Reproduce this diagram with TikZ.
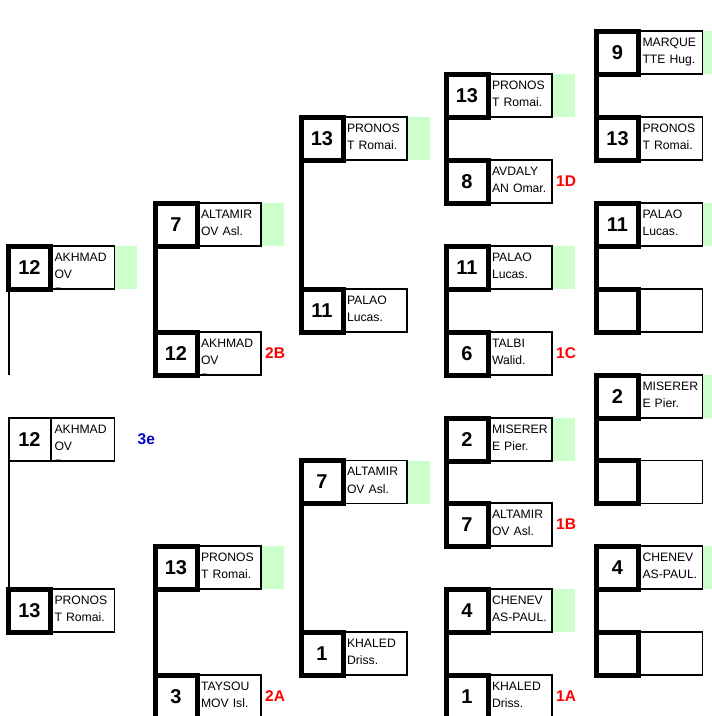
\documentclass[tikz,border=0pt]{standalone}
\usepackage{fontspec}
\setmainfont{Liberation Sans}
\usetikzlibrary{positioning}
\definecolor{wingreen}{HTML}{CCFFCC}
\definecolor{thirdblue}{HTML}{0000CC}

\begin{document}
\begin{tikzpicture}[x=1pt,y=-1pt,
  nbox/.style={draw,line width=5pt,minimum width=42pt,minimum height=43pt,inner sep=0pt,outer sep=0pt,anchor=north west,font=\fontsize{20}{20}\selectfont\bfseries},
  pbox/.style={draw,line width=1.5pt,minimum width=64pt,minimum height=43pt,inner xsep=4pt,inner ysep=0pt,outer sep=0pt,text width=56pt,text height=15pt,text depth=28pt,align=left,font=\fontsize{12.2}{17.5}\selectfont},
  clipname/.style={path picture={\node[anchor=north west,inner xsep=4pt,inner ysep=0pt,text width=56pt,text height=15pt,align=left,font=\fontsize{12.2}{17.5}\selectfont] at (path picture bounding box.north west) {#1};}},
  gbox/.style={fill=wingreen,minimum width=22pt,minimum height=43pt,inner sep=0pt,outer sep=0pt},
  rlab/.style={text=red,font=\fontsize{15.5}{15.5}\selectfont\bfseries,inner sep=0pt},
  link/.style={line width=5pt},
  thinlink/.style={line width=2pt}]
\useasboundingbox (0,0) rectangle (712,716);

% column 1
\node[nbox] (c1r5) at (8.5,246) {12};
\node[pbox,clipname={AKHMAD\\OV\\Ramz.},right=0pt of c1r5] (c1r5p) {};
\node[gbox,right=0.75pt of c1r5p] (c1r5g) {};
\node[nbox,line width=2pt] (c1r9) at (8.5,418) {12};
\node[pbox,clipname={AKHMAD\\OV\\Ramz.},right=0pt of c1r9] (c1r9p) {};
\node[rlab,text=thirdblue,right=23pt of c1r9p] (l3e) {3e};
\node[nbox] (c1r13) at (8.5,589) {13};
\node[pbox,right=0pt of c1r13] (c1r13p) {PRONOS\\T Romai.};
\coordinate (c1end) at (8.5,375);

% column 2
\node[nbox] (c2r4) at (155,203) {7};
\node[pbox,right=0pt of c2r4] (c2r4p) {ALTAMIR\\OV Asl.};
\node[gbox,right=0.75pt of c2r4p] (c2r4g) {};
\node[nbox] (c2r7) at (155,332) {12};
\node[pbox,clipname={AKHMAD\\OV\\Ramz.},right=0pt of c2r7] (c2r7p) {};
\node[rlab,right=4pt of c2r7p] (l2B) {2B};
\node[nbox] (c2r12) at (155,546) {13};
\node[pbox,right=0pt of c2r12] (c2r12p) {PRONOS\\T Romai.};
\node[gbox,right=0.75pt of c2r12p] (c2r12g) {};
\node[nbox] (c2r15) at (155,675) {3};
\node[pbox,right=0pt of c2r15] (c2r15p) {TAYSOU\\MOV Isl.};
\node[rlab,right=4pt of c2r15p] (l2A) {2A};

% column 3
\node[nbox] (c3r2) at (301,117) {13};
\node[pbox,right=0pt of c3r2] (c3r2p) {PRONOS\\T Romai.};
\node[gbox,right=0.75pt of c3r2p] (c3r2g) {};
\node[nbox] (c3r6) at (301,289) {11};
\node[pbox,right=0pt of c3r6] (c3r6p) {PALAO\\Lucas.};
\node[nbox] (c3r10) at (301,460.5) {7};
\node[pbox,right=0pt of c3r10] (c3r10p) {ALTAMIR\\OV Asl.};
\node[gbox,right=0.75pt of c3r10p] (c3r10g) {};
\node[nbox] (c3r14) at (301,632) {1};
\node[pbox,right=0pt of c3r14] (c3r14p) {KHALED\\Driss.};

% column 4
\node[nbox] (c4r1) at (446,74) {13};
\node[pbox,right=0pt of c4r1] (c4r1p) {PRONOS\\T Romai.};
\node[gbox,right=0.75pt of c4r1p] (c4r1g) {};
\node[nbox] (c4r3) at (446,160) {8};
\node[pbox,right=0pt of c4r3] (c4r3p) {AVDALY\\AN Omar.};
\node[rlab,right=4pt of c4r3p] (l1D) {1D};
\node[nbox] (c4r5) at (446,246) {11};
\node[pbox,right=0pt of c4r5] (c4r5p) {PALAO\\Lucas.};
\node[gbox,right=0.75pt of c4r5p] (c4r5g) {};
\node[nbox] (c4r7) at (446,332) {6};
\node[pbox,right=0pt of c4r7] (c4r7p) {TALBI\\Walid.};
\node[rlab,right=4pt of c4r7p] (l1C) {1C};
\node[nbox] (c4r9) at (446,418) {2};
\node[pbox,right=0pt of c4r9] (c4r9p) {MISERER\\E Pier.};
\node[gbox,right=0.75pt of c4r9p] (c4r9g) {};
\node[nbox] (c4r11) at (446,503) {7};
\node[pbox,right=0pt of c4r11] (c4r11p) {ALTAMIR\\OV Asl.};
\node[rlab,right=4pt of c4r11p] (l1B) {1B};
\node[nbox] (c4r13) at (446,589) {4};
\node[pbox,right=0pt of c4r13] (c4r13p) {CHENEV\\AS-PAUL.};
\node[gbox,right=0.75pt of c4r13p] (c4r13g) {};
\node[nbox] (c4r15) at (446,675) {1};
\node[pbox,right=0pt of c4r15] (c4r15p) {KHALED\\Driss.};
\node[rlab,right=4pt of c4r15p] (l1A) {1A};

% column 5
\node[nbox] (c5r0) at (596.5,31) {9};
\node[pbox,right=0pt of c5r0] (c5r0p) {MARQUE\\TTE Hug.};
\node[gbox,right=0.75pt of c5r0p] (c5r0g) {};
\node[nbox] (c5r2) at (596.5,117) {13};
\node[pbox,right=0pt of c5r2] (c5r2p) {PRONOS\\T Romai.};
\node[nbox] (c5r4) at (596.5,203) {11};
\node[pbox,right=0pt of c5r4] (c5r4p) {PALAO\\Lucas.};
\node[gbox,right=0.75pt of c5r4p] (c5r4g) {};
\node[nbox] (c5r6) at (596.5,289) {};
\node[pbox,right=0pt of c5r6] (c5r6p) {};
\node[nbox] (c5r8) at (596.5,375) {2};
\node[pbox,right=0pt of c5r8] (c5r8p) {MISERER\\E Pier.};
\node[gbox,right=0.75pt of c5r8p] (c5r8g) {};
\node[nbox] (c5r10) at (596.5,460.5) {};
\node[pbox,right=0pt of c5r10] (c5r10p) {};
\node[nbox] (c5r12) at (596.5,546) {4};
\node[pbox,right=0pt of c5r12] (c5r12p) {CHENEV\\AS-PAUL.};
\node[gbox,right=0.75pt of c5r12p] (c5r12g) {};
\node[nbox] (c5r14) at (596.5,632) {};
\node[pbox,right=0pt of c5r14] (c5r14p) {};

% bracket lines
\draw[thinlink] (c1r5.south west) -- (c1end);
\draw[thinlink] (c1r9.south west) -- (c1r13.north west);
\draw[link] (c2r4.south west) -- (c2r7.north west);
\draw[link] (c2r12.south west) -- (c2r15.north west);
\draw[link] (c3r2.south west) -- (c3r6.north west);
\draw[link] (c3r10.south west) -- (c3r14.north west);
\draw[link] (c4r1.south west) -- (c4r3.north west);
\draw[link] (c4r5.south west) -- (c4r7.north west);
\draw[link] (c4r9.south west) -- (c4r11.north west);
\draw[link] (c4r13.south west) -- (c4r15.north west);
\draw[link] (c5r0.south west) -- (c5r2.north west);
\draw[link] (c5r4.south west) -- (c5r6.north west);
\draw[link] (c5r8.south west) -- (c5r10.north west);
\draw[link] (c5r12.south west) -- (c5r14.north west);
\end{tikzpicture}
\end{document}
